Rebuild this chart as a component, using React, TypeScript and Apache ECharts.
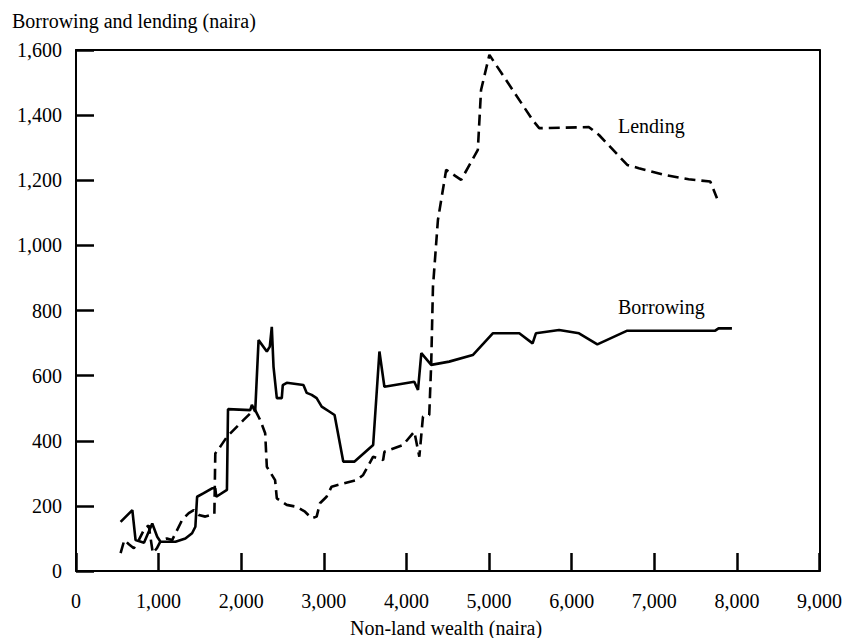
import React, { useEffect, useRef } from "react";
import * as echarts from "echarts";

// Non-land wealth (naira) at each sampled point, with borrowing / lending amounts (naira)
const borrowingWealth = [
  540, 682, 721, 823, 923, 983, 1023, 1204, 1324, 1405, 1445, 1466, 1546, 1647, 1686,
  1698, 1827, 1840, 2109, 2129, 2169, 2210, 2310, 2346, 2370, 2391, 2431, 2491, 2503,
  2551, 2753, 2793, 2853, 2913, 2974, 3070, 3130, 3235, 3372, 3597, 3673, 3733, 4095,
  4140, 4180, 4300, 4517, 4803, 5045, 5366, 5527, 5567, 5848, 6089, 6311, 6673, 7738,
  7778, 7940,
];
const borrowingAmount = [
  151, 187, 95, 87, 146, 105, 90, 90, 100, 116, 136, 228, 239, 254, 254,
  228, 249, 497, 494, 510, 489, 709, 674, 689, 750, 627, 531, 531, 571,
  578, 571, 547, 541, 531, 505, 489, 479, 336, 336, 387, 674, 566, 581,
  556, 669, 633, 643, 663, 730, 730, 699, 730, 740, 730, 696, 738, 738,
  745, 745,
];

const lendingWealth = [
  540, 585, 640, 700, 760, 830, 880, 930, 980, 1030, 1100, 1164, 1285, 1365, 1425,
  1486, 1566, 1675, 1686, 1747, 1827, 1928, 2029, 2109, 2169, 2229, 2290, 2310,
  2410, 2431, 2551, 2672, 2772, 2853, 2913, 2953, 3033, 3094, 3235, 3396, 3476,
  3597, 3718, 3733, 3959, 4095, 4156, 4200, 4276, 4300, 4321, 4381, 4481, 4662,
  4864, 4903, 5004, 5527, 5607, 6210, 6331, 6673, 6813, 7135, 7416, 7678, 7759,
];
const lendingAmount = [
  55, 95, 82, 70, 95, 130, 140, 55, 70, 95, 100, 95, 157, 178, 187,
  172, 167, 175, 361, 382, 412, 438, 464, 484, 494, 464, 423, 320,
  279, 223, 203, 197, 182, 162, 167, 208, 228, 259, 269, 279, 295,
  351, 341, 366, 387, 428, 351, 474, 479, 639, 873, 1078, 1232, 1201,
  1293, 1477, 1585, 1385, 1360, 1363, 1339, 1247, 1237, 1216, 1203, 1196, 1145,
];

const seriesNames = ["Borrowing", "Lending"];
const yAxisTitle = "Borrowing and lending (naira)";
const xAxisTitle = "Non-land wealth (naira)";

const FONT = "Liberation Serif";
const FONT_SIZE = 20;

const pairs = (xs: number[], ys: number[]) => xs.map((x, i) => [x, ys[i]]);
const fmt = (v: number) => v.toLocaleString("en-US");

export default function App() {
  const ref = useRef<HTMLDivElement>(null);

  useEffect(() => {
    if (!ref.current) return;
    const chart = echarts.init(ref.current, null, { renderer: "svg" });

    const line = { show: true, onZero: false, lineStyle: { color: "#000", width: 2 } };
    const ticks = { show: true, inside: true, length: 18, lineStyle: { color: "#000", width: 2.5 } };
    const label = { color: "#000", fontFamily: FONT, fontSize: FONT_SIZE, formatter: fmt };

    chart.setOption({
      animation: false,
      backgroundColor: "#fff",
      grid: { left: 76, right: 21, top: 50, bottom: 67 },
      xAxis: [
        {
          type: "value",
          position: "bottom",
          min: 0,
          max: 9000,
          interval: 1000,
          axisLine: line,
          axisTick: ticks,
          axisLabel: { ...label, margin: 20 },
          splitLine: { show: false },
        },
        {
          // top edge of the frame
          type: "value",
          position: "top",
          min: 0,
          max: 9000,
          interval: 1000,
          axisLine: line,
          axisTick: { show: false },
          axisLabel: { show: false },
          splitLine: { show: false },
        },
      ],
      yAxis: [
        {
          type: "value",
          position: "left",
          min: 0,
          max: 1600,
          interval: 200,
          axisLine: line,
          axisTick: ticks,
          axisLabel: { ...label, margin: 14 },
          splitLine: { show: false },
        },
        {
          // right edge of the frame
          type: "value",
          position: "right",
          min: 0,
          max: 1600,
          interval: 200,
          axisLine: line,
          axisTick: { show: false },
          axisLabel: { show: false },
          splitLine: { show: false },
        },
      ],
      series: [
        {
          name: seriesNames[0],
          type: "line",
          data: pairs(borrowingWealth, borrowingAmount),
          symbol: "none",
          lineStyle: { color: "#000", width: 2.6, type: "solid" },
        },
        {
          name: seriesNames[1],
          type: "line",
          data: pairs(lendingWealth, lendingAmount),
          symbol: "none",
          lineStyle: { color: "#000", width: 2.6, type: [11, 6] },
        },
      ],
      graphic: [
        {
          type: "text",
          left: 12,
          top: 11,
          style: { text: yAxisTitle, fill: "#000", font: `${FONT_SIZE}px "${FONT}"` },
        },
        {
          type: "text",
          x: 446,
          y: 628,
          style: {
            text: xAxisTitle,
            fill: "#000",
            font: `${FONT_SIZE}px "${FONT}"`,
            align: "center",
            verticalAlign: "middle",
          },
        },
        {
          type: "text",
          x: 618,
          y: 126,
          style: {
            text: seriesNames[1],
            fill: "#000",
            font: `${FONT_SIZE}px "${FONT}"`,
            verticalAlign: "middle",
          },
        },
        {
          type: "text",
          x: 618,
          y: 307,
          style: {
            text: seriesNames[0],
            fill: "#000",
            font: `${FONT_SIZE}px "${FONT}"`,
            verticalAlign: "middle",
          },
        },
      ],
    });

    return () => chart.dispose();
  }, []);

  return (
    <div
      ref={ref}
      style={{ position: "fixed", left: 0, top: 0, width: 845, height: 638, background: "#fff" }}
    />
  );
}
